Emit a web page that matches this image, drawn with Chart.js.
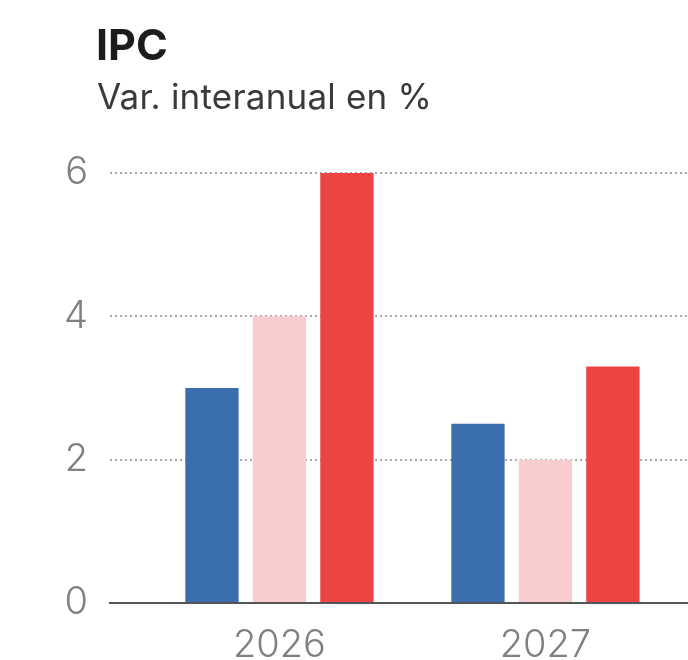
<!DOCTYPE html>
<html>
<head>
<meta charset="utf-8">
<script src="https://cdn.jsdelivr.net/npm/chart.js@4"></script>
<style>
  html, body { margin: 0; padding: 0; background: #fff; }
  #wrap { position: relative; width: 688px; height: 660px; overflow: hidden; font-family: Inter, "Open Sans", sans-serif; }
  #title { position: absolute; left: 96px; top: 23px; font-size: 43px; line-height: 1; font-weight: 700; color: #1c1c1c; }
  #subtitle { position: absolute; left: 97px; top: 79px; font-size: 35px; line-height: 1; color: #3a3a3a; letter-spacing: 0.2px; }
  #chart { position: absolute; left: 0; top: 0; }
</style>
</head>
<body>
<div id="wrap">
  <canvas id="chart" width="688" height="660"></canvas>
  <div id="title">IPC</div>
  <div id="subtitle">Var. interanual en %</div>
</div>
<script>
// Data
const years = [2026, 2027];
const serieAzul = [3.0, 2.5];
const serieRosa = [4.0, 2.0];
const serieRoja = [6.0, 3.3];
const yTicks = [0, 2, 4, 6];

const colors = ['#3b6eae', '#f9cdd0', '#ec4343'];
const series = [serieAzul, serieRosa, serieRoja];

const ctx = document.getElementById('chart').getContext('2d');
new Chart(ctx, {
  type: 'bar',
  data: {
    datasets: series.map((vals, i) => ({
      data: vals.map((v, j) => ({ x: years[j], y: v })),
      backgroundColor: colors[i],
      borderWidth: 0,
      categoryPercentage: 0.761,
      barPercentage: 0.79
    }))
  },
  options: {
    responsive: false,
    animation: false,
    layout: { padding: { top: 173, right: 0, bottom: 0, left: 0 } },
    plugins: {
      legend: { display: false },
      tooltip: { enabled: false }
    },
    scales: {
      x: {
        type: 'linear',
        offset: false,
        min: 2025.363,
        max: 2027.536,
        afterBuildTicks: s => { s.ticks = years.map(v => ({ value: v })); },
        afterFit: s => { s.height = 57; },
        grid: { display: false, drawTicks: false },
        border: { display: true, color: '#555', width: 2 },
        ticks: {
          padding: 20,
          color: '#808080',
          font: { family: 'Inter', size: 38, weight: 300 },
          callback: v => String(v)
        }
      },
      y: {
        min: 0,
        max: 6,
        afterBuildTicks: s => { s.ticks = yTicks.map(v => ({ value: v })); },
        afterFit: s => { s.width = 110; },
        grid: {
          color: '#a9a9a9',
          lineWidth: 2,
          drawTicks: false
        },
        border: { display: false, dash: [2, 3] },
        ticks: {
          padding: 22,
          color: '#808080',
          font: { family: 'Inter', size: 38, weight: 300 }
        }
      }
    }
  }
});
</script>
</body>
</html>
